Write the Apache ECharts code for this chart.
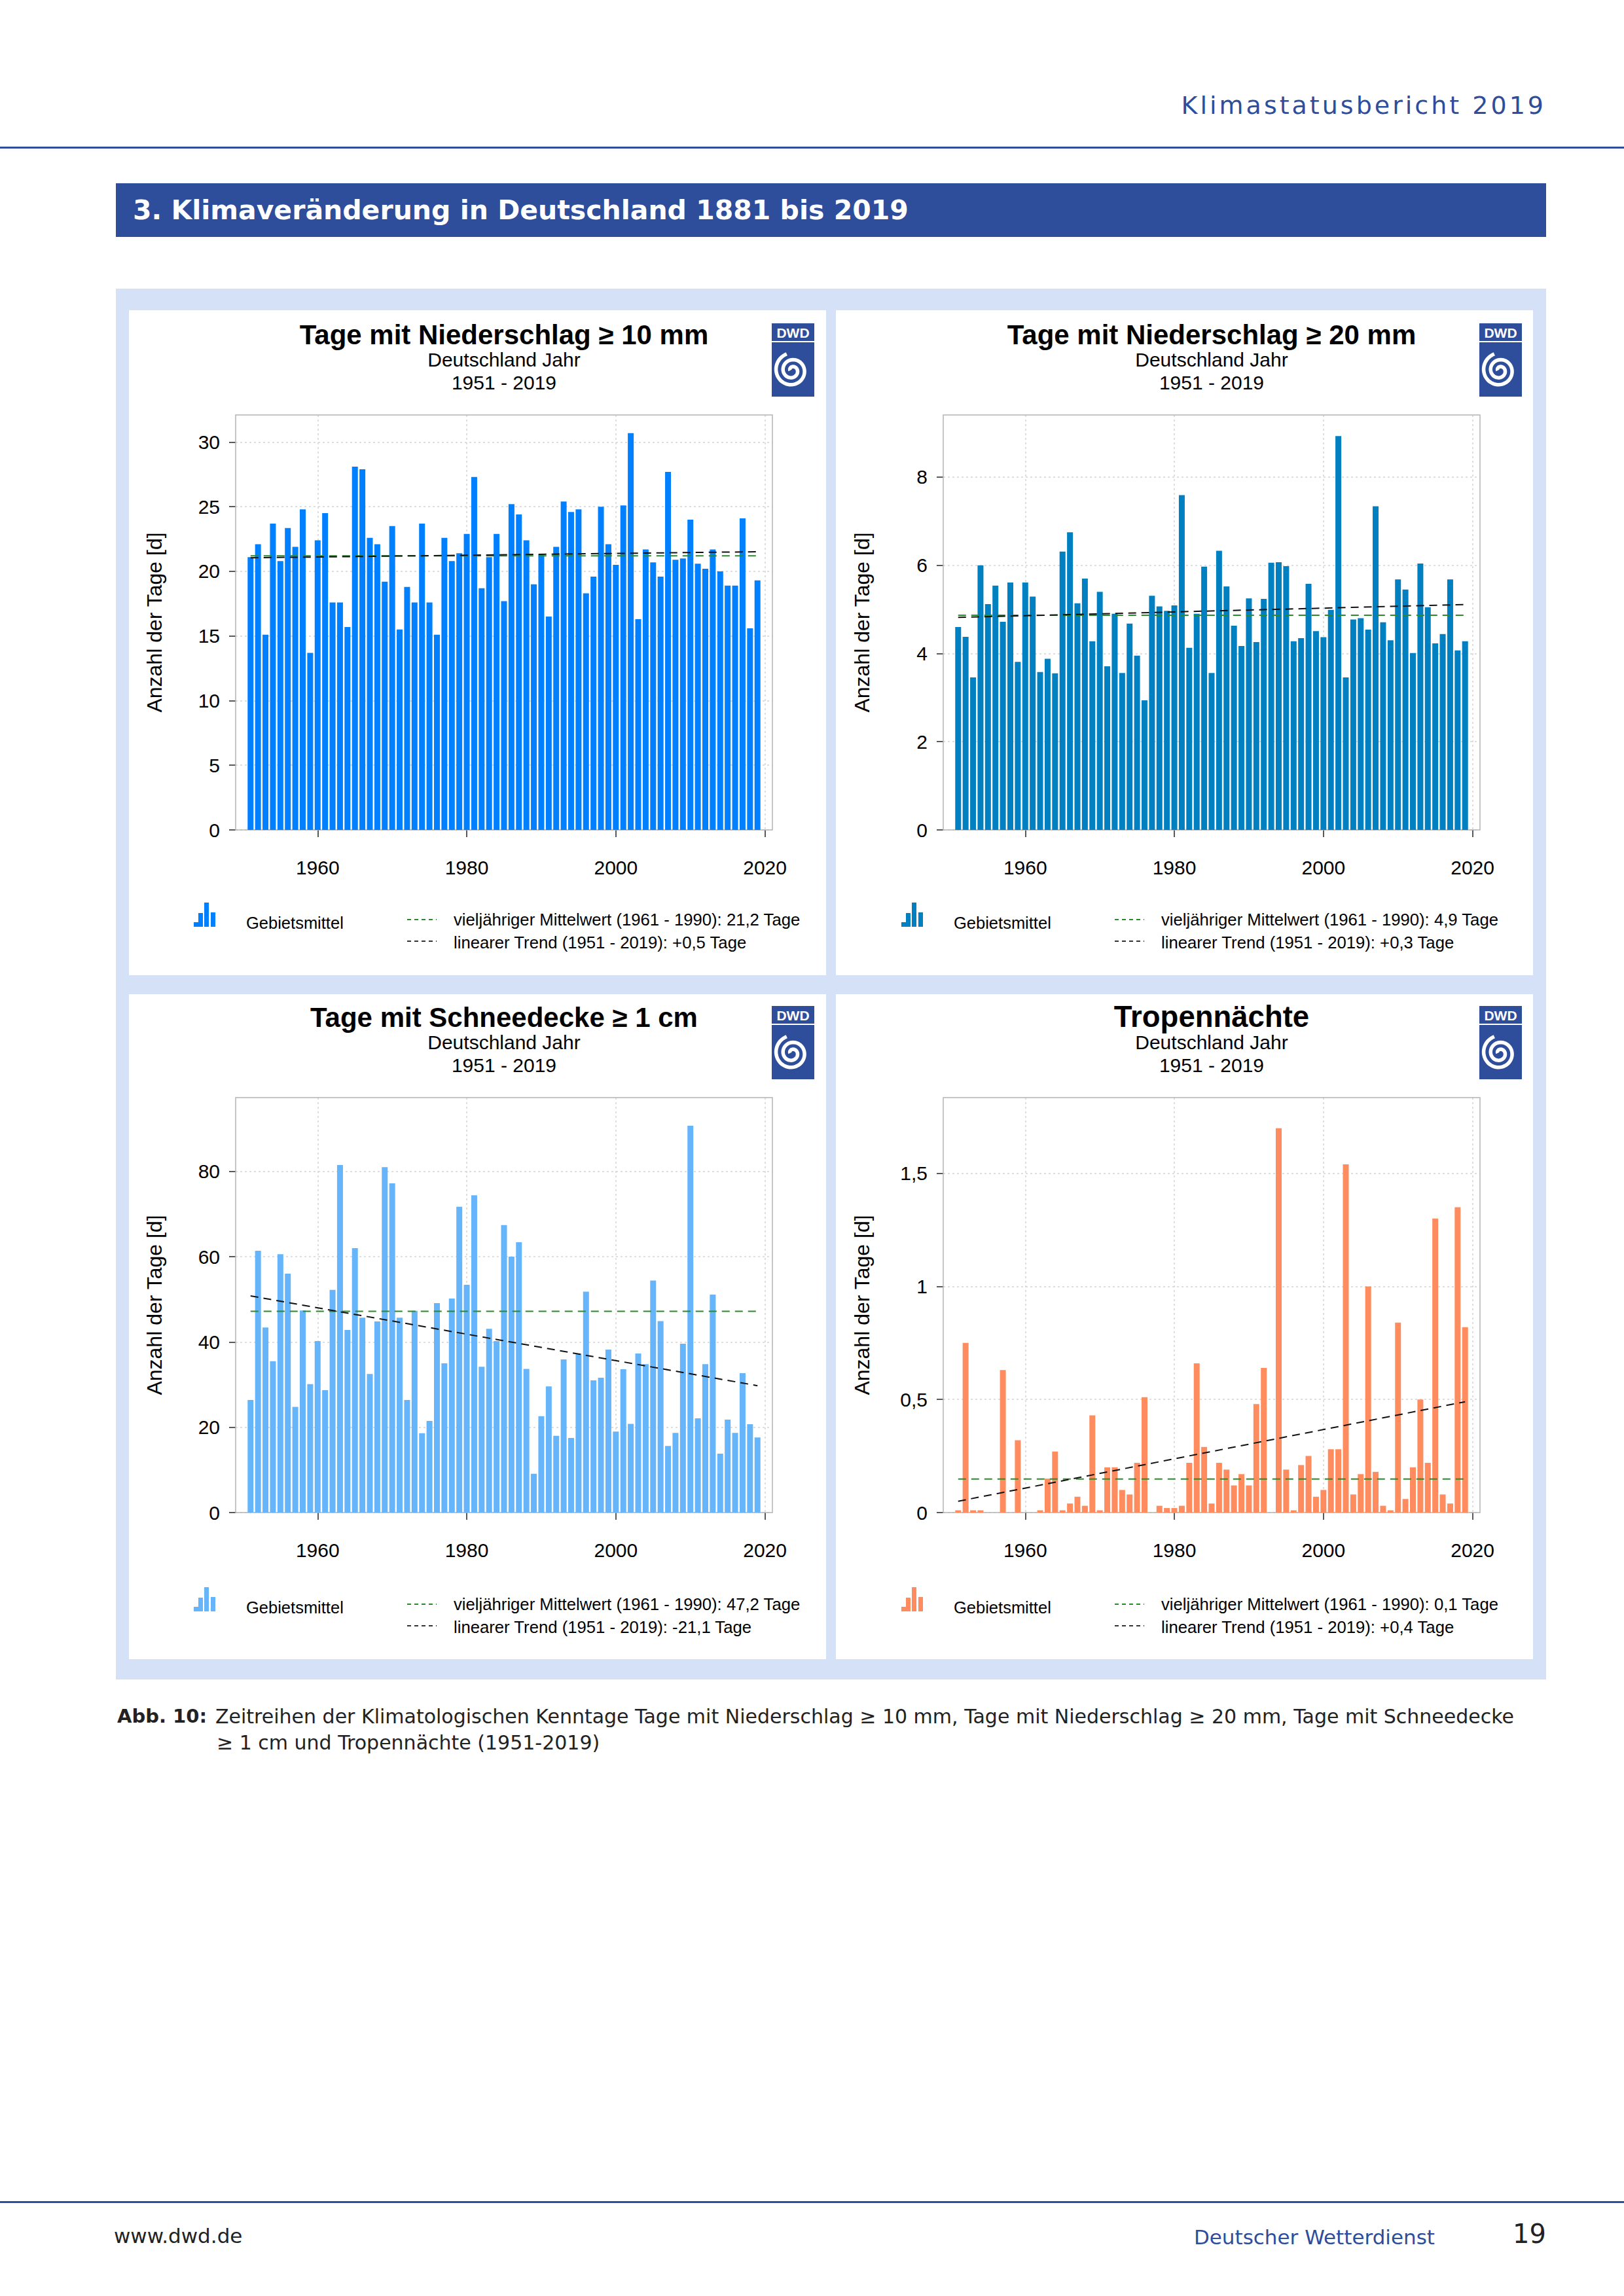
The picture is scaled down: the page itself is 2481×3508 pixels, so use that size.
<!DOCTYPE html>
<html>
<head>
<meta charset="utf-8">
<script src="https://cdn.jsdelivr.net/npm/echarts@6/dist/echarts.min.js"></script>
<style>
html,body{margin:0;padding:0;background:#ffffff;}
#wrap{position:relative;width:2481px;height:3508px;}
#c{position:absolute;left:0;top:0;width:2481px;height:3508px;}
#hdr{position:absolute;right:119px;top:137px;font-family:"DejaVu Sans",sans-serif;font-size:38px;line-height:48px;
  letter-spacing:4px;color:#2e4d9a;white-space:nowrap;z-index:5;}
</style>
</head>
<body>
<div id="wrap">
<div id="c"></div>
<div id="hdr">Klimastatusbericht 2019</div>
</div>
<script>
// ---------- data ----------
const years = [1951,1952,1953,1954,1955,1956,1957,1958,1959,1960,
  1961,1962,1963,1964,1965,1966,1967,1968,1969,1970,
  1971,1972,1973,1974,1975,1976,1977,1978,1979,1980,
  1981,1982,1983,1984,1985,1986,1987,1988,1989,1990,
  1991,1992,1993,1994,1995,1996,1997,1998,1999,2000,
  2001,2002,2003,2004,2005,2006,2007,2008,2009,2010,
  2011,2012,2013,2014,2015,2016,2017,2018,2019];

const precip10 = [21.1,22.1,15.1,23.7,20.8,23.35,21.9,24.8,13.7,22.4,
  24.5,17.6,17.6,15.7,28.1,27.9,22.6,22.1,19.2,23.5,
  15.5,18.8,17.6,23.7,17.6,15.1,22.6,20.8,21.4,22.9,
  27.3,18.7,21.1,22.9,17.7,25.2,24.4,22.4,19.0,21.3,
  16.5,21.9,25.4,24.6,24.8,18.3,19.6,25.0,22.1,20.5,
  25.1,30.7,16.3,21.7,20.7,19.6,27.7,20.9,21.0,24.0,
  20.6,20.2,21.7,20.0,18.9,18.9,24.1,15.6,19.3];

const precip20 = [4.60,4.38,3.46,6.00,5.12,5.54,4.72,5.61,3.81,5.61,
  5.29,3.58,3.88,3.55,6.31,6.75,5.14,5.70,4.28,5.40,
  3.71,4.90,3.56,4.68,3.95,2.94,5.31,5.07,4.97,5.09,
  7.59,4.13,4.90,5.97,3.56,6.33,5.52,4.63,4.17,5.25,
  4.26,5.24,6.06,6.07,5.98,4.28,4.35,5.58,4.51,4.37,
  4.99,8.93,3.46,4.77,4.80,4.54,7.34,4.71,4.30,5.68,
  5.45,4.01,6.04,5.05,4.23,4.44,5.68,4.07,4.28];

const snow1 = [26.4,61.4,43.4,35.5,60.6,56.0,24.8,47.4,30.1,40.2,
  28.7,52.2,81.5,42.8,62.0,45.7,32.5,44.8,81.0,77.2,
  45.7,26.4,47.3,18.6,21.5,49.1,35.0,50.2,71.7,53.4,
  74.4,34.2,43.1,40.2,67.4,60.0,63.4,33.7,9.1,22.6,
  29.6,18.0,35.9,17.5,37.3,51.8,31.0,31.6,38.2,19.0,
  33.6,20.8,37.3,34.8,54.4,44.9,15.6,18.7,39.6,90.7,
  22.1,34.8,51.1,13.8,21.8,18.7,32.7,20.7,17.6];

const tropical = [0.01,0.75,0.01,0.01,0,0,0.63,0,0.32,0,
  0,0.01,0.15,0.27,0.01,0.04,0.07,0.03,0.43,0.01,
  0.20,0.20,0.10,0.08,0.22,0.51,0,0.03,0.02,0.02,
  0.03,0.22,0.66,0.29,0.04,0.22,0.19,0.12,0.17,0.12,
  0.48,0.64,0,1.70,0.19,0.01,0.21,0.25,0.07,0.10,
  0.28,0.28,1.54,0.08,0.17,1.00,0.18,0.03,0.01,0.84,
  0.06,0.20,0.50,0.22,1.30,0.08,0.04,1.35,0.82];

const meanValues = [21.2, 4.87, 47.2, 0.148];
const trendStart = [21.05, 4.82, 50.8, 0.05];
const trendEnd   = [21.52, 5.11, 29.75, 0.49];

const xTicks = [1960, 1980, 2000, 2020];
const yTicks1 = [0, 5, 10, 15, 20, 25, 30];
const yTicks2 = [0, 2, 4, 6, 8];
const yTicks3 = [0, 20, 40, 60, 80];
const yTicks4 = [0, 0.5, 1, 1.5];

const chartTitles = ['Tage mit Niederschlag \u2265 10 mm', 'Tage mit Niederschlag \u2265 20 mm',
                     'Tage mit Schneedecke \u2265 1 cm', 'Tropenn\u00e4chte'];
const meanLabels = ['vielj\u00e4hriger Mittelwert (1961 - 1990): 21,2 Tage',
                    'vielj\u00e4hriger Mittelwert (1961 - 1990): 4,9 Tage',
                    'vielj\u00e4hriger Mittelwert (1961 - 1990): 47,2 Tage',
                    'vielj\u00e4hriger Mittelwert (1961 - 1990): 0,1 Tage'];
const trendLabels = ['linearer Trend (1951 - 2019): +0,5 Tage',
                     'linearer Trend (1951 - 2019): +0,3 Tage',
                     'linearer Trend (1951 - 2019): -21,1 Tage',
                     'linearer Trend (1951 - 2019): +0,4 Tage'];

// ---------- layout / style ----------
const seriesData = [precip10, precip20, snow1, tropical];
const yTickSets = [yTicks1, yTicks2, yTicks3, yTicks4];
const yMax = [32.1, 9.41, 97.3, 1.835];
const yInterval = [5, 2, 20, 0.5];
const barColors = ['#0080ff', '#0080c0', '#66b5fb', '#ff8c5e'];
const titleSizes = [42, 42, 42, 45.5];
const titleOffsets = [123, 123, 123, 124];
const gridLeft = [360, 1441, 360, 1441];
const gridTop = [634, 634, 1677, 1677];
const GW = 820, GH = 634;
const DWDBLUE = '#2e4d9a';
const CF = '"Liberation Sans", Arial, sans-serif';
const PF = '"DejaVu Sans", sans-serif';

const chart = echarts.init(document.getElementById('c'), null, {renderer: 'svg', width: 2481, height: 3508});

const grids = [], xAxes = [], yAxes = [], series = [], graphics = [];

// page decorations
graphics.push({type: 'rect', z: -20, shape: {x: 0, y: 224, width: 2481, height: 3}, style: {fill: DWDBLUE}});
graphics.push({type: 'rect', z: -20, shape: {x: 177, y: 280, width: 2185, height: 82}, style: {fill: DWDBLUE}});
graphics.push({type: 'text', z: 50, style: {text: '3. Klimaver\u00e4nderung in Deutschland 1881 bis 2019', x: 203, y: 321,
  textAlign: 'left', textVerticalAlign: 'middle', fill: '#ffffff', font: 'bold 41px ' + PF}});
graphics.push({type: 'rect', z: -20, shape: {x: 177, y: 441, width: 2185, height: 2125}, style: {fill: '#d4e1f6'}});
[[197, 474], [1277, 474], [197, 1519], [1277, 1519]].forEach(p => {
  graphics.push({type: 'rect', z: -15, shape: {x: p[0], y: p[1], width: 1065, height: 1016}, style: {fill: '#ffffff'}});
});
// caption
graphics.push({type: 'text', z: 50, style: {text: 'Abb. 10:', x: 179, y: 2622, textAlign: 'left', textVerticalAlign: 'middle',
  fill: '#222', font: 'bold 29px ' + PF}});
graphics.push({type: 'text', z: 50, style: {text: 'Zeitreihen der Klimatologischen Kenntage Tage mit Niederschlag \u2265 10 mm, Tage mit Niederschlag \u2265 20 mm, Tage mit Schneedecke',
  x: 329, y: 2622, textAlign: 'left', textVerticalAlign: 'middle', fill: '#222', font: '30px ' + PF}});
graphics.push({type: 'text', z: 50, style: {text: '\u2265 1 cm und Tropenn\u00e4chte (1951-2019)',
  x: 331, y: 2662, textAlign: 'left', textVerticalAlign: 'middle', fill: '#222', font: '30px ' + PF}});
// footer
graphics.push({type: 'rect', z: -20, shape: {x: 0, y: 3363, width: 2481, height: 3}, style: {fill: DWDBLUE}});
graphics.push({type: 'text', z: 50, style: {text: 'www.dwd.de', x: 174, y: 3416, textAlign: 'left', textVerticalAlign: 'middle',
  fill: '#222', font: '31px ' + PF}});
graphics.push({type: 'text', z: 50, style: {text: 'Deutscher Wetterdienst', x: 2192, y: 3418, textAlign: 'right', textVerticalAlign: 'middle',
  fill: DWDBLUE, font: '31px ' + PF}});
graphics.push({type: 'text', z: 50, style: {text: '19', x: 2362, y: 3413, textAlign: 'right', textVerticalAlign: 'middle',
  fill: '#222', font: '40px ' + PF}});

function comma(v) { return String(v).replace('.', ','); }
function plain(v) { return String(v); }

for (let i = 0; i < 4; i++) {
  const L = gridLeft[i], T = gridTop[i];
  const cx = L + GW / 2;
  grids.push({left: L, top: T, width: GW, height: GH, show: true, borderColor: '#b4b4b4', borderWidth: 1.5,
    backgroundColor: 'transparent', z: 1});
  xAxes.push({type: 'value', gridIndex: i, min: 1949, max: 2021,
    axisLine: {show: false},
    axisTick: {show: true, customValues: xTicks, length: 11, lineStyle: {color: '#222', width: 1.5}},
    axisLabel: {show: true, customValues: xTicks, margin: 42, fontSize: 30, color: '#000', fontFamily: CF,
      formatter: plain},
    splitLine: {show: true, lineStyle: {color: '#d4d4d4', width: 1.5, type: [3, 4]}}});
  yAxes.push({type: 'value', gridIndex: i, min: 0, max: yMax[i], interval: yInterval[i],
    name: 'Anzahl der Tage [d]', nameLocation: 'middle', nameGap: 108,
    nameTextStyle: {fontSize: 32, color: '#000', fontFamily: CF},
    axisLine: {show: false},
    axisTick: {show: true, customValues: yTickSets[i], length: 10, lineStyle: {color: '#222', width: 1.5}},
    axisLabel: {show: true, customValues: yTickSets[i], margin: 24, fontSize: 30, color: '#000', fontFamily: CF,
      formatter: comma},
    splitLine: {show: true, lineStyle: {color: '#d4d4d4', width: 1.5, type: [3, 4]}}});
  const vals = seriesData[i];
  series.push({type: 'bar', xAxisIndex: i, yAxisIndex: i, barWidth: 9, z: 3,
    itemStyle: {color: barColors[i]}, data: years.map((y, k) => [y, vals[k]]), silent: true});
  series.push({type: 'line', xAxisIndex: i, yAxisIndex: i, symbol: 'none', z: 5, silent: true,
    lineStyle: {color: '#2a8a2a', width: 2, type: [12, 8]},
    data: [[years[0], meanValues[i]], [years[years.length - 1], meanValues[i]]]});
  series.push({type: 'line', xAxisIndex: i, yAxisIndex: i, symbol: 'none', z: 6, silent: true,
    lineStyle: {color: '#111111', width: 2, type: [12, 8]},
    data: [[years[0], trendStart[i]], [years[years.length - 1], trendEnd[i]]]});

  // titles
  graphics.push({type: 'text', z: 50, style: {text: chartTitles[i], x: cx, y: T - titleOffsets[i], textAlign: 'center', textVerticalAlign: 'middle',
    fill: '#000', font: 'bold ' + titleSizes[i] + 'px ' + CF}});
  graphics.push({type: 'text', z: 50, style: {text: 'Deutschland Jahr', x: cx, y: T - 85, textAlign: 'center', textVerticalAlign: 'middle',
    fill: '#000', font: '30px ' + CF}});
  graphics.push({type: 'text', z: 50, style: {text: '1951 - 2019', x: cx, y: T - 50, textAlign: 'center', textVerticalAlign: 'middle',
    fill: '#000', font: '30px ' + CF}});

  // DWD logo
  const lx = L + 819, ly = T - 140;
  graphics.push({type: 'rect', z: 40, shape: {x: lx, y: ly, width: 65, height: 112}, style: {fill: DWDBLUE}});
  graphics.push({type: 'rect', z: 41, shape: {x: lx, y: ly + 27, width: 65, height: 2}, style: {fill: '#ffffff'}});
  graphics.push({type: 'text', z: 42, style: {text: 'DWD', x: lx + 32.5, y: ly + 14, textAlign: 'center', textVerticalAlign: 'middle',
    fill: '#ffffff', font: 'bold 21px ' + CF}});
  const pts = [];
  const scx = lx + 31, scy = ly + 72;
  for (let k = 0; k <= 120; k++) {
    const th = k / 120 * 4.4 * Math.PI;
    const r = 3 + th * 1.7;
    pts.push([scx + r * Math.cos(th + Math.PI), scy + r * Math.sin(th + Math.PI)]);
  }
  graphics.push({type: 'polyline', z: 42, shape: {points: pts}, style: {stroke: '#ffffff', lineWidth: 5.5, fill: null}});

  // legend
  const dx = L - 360, dy = (T === 634) ? 0 : 1046;
  const by = 1416 + dy;
  [[296, 7], [303, 21], [312, 37], [322, 22]].forEach(b => {
    graphics.push({type: 'rect', z: 40, shape: {x: b[0] + dx, y: by - b[1], width: 7, height: b[1]}, style: {fill: barColors[i]}});
  });
  graphics.push({type: 'text', z: 50, style: {text: 'Gebietsmittel', x: 376 + dx, y: 1410 + dy, textAlign: 'left', textVerticalAlign: 'middle',
    fill: '#000', font: '25.5px ' + CF}});
  graphics.push({type: 'line', z: 40, shape: {x1: 622 + dx, y1: 1405 + dy, x2: 667 + dx, y2: 1405 + dy},
    style: {stroke: '#2a8a2a', lineWidth: 2, lineDash: [6, 5]}});
  graphics.push({type: 'text', z: 50, style: {text: meanLabels[i], x: 693 + dx, y: 1405 + dy, textAlign: 'left', textVerticalAlign: 'middle',
    fill: '#000', font: '25.7px ' + CF}});
  graphics.push({type: 'line', z: 40, shape: {x1: 622 + dx, y1: 1438 + dy, x2: 667 + dx, y2: 1438 + dy},
    style: {stroke: '#333', lineWidth: 2, lineDash: [6, 5]}});
  graphics.push({type: 'text', z: 50, style: {text: trendLabels[i], x: 693 + dx, y: 1440 + dy, textAlign: 'left', textVerticalAlign: 'middle',
    fill: '#000', font: '25.7px ' + CF}});
}

chart.setOption({
  backgroundColor: 'transparent',
  animation: false,
  grid: grids,
  xAxis: xAxes,
  yAxis: yAxes,
  series: series,
  graphic: {elements: graphics}
});
</script>
</body>
</html>
